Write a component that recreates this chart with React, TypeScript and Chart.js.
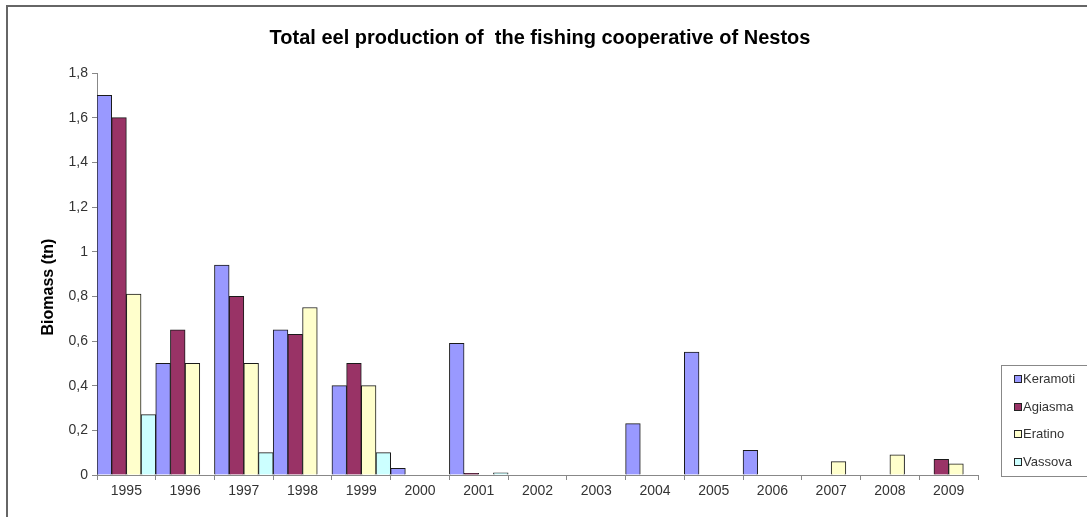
import React, { useEffect, useRef } from "react";
import { Chart, registerables } from "chart.js";

Chart.register(...registerables);

const years = ["1995","1996","1997","1998","1999","2000","2001","2002","2003","2004","2005","2006","2007","2008","2009"];
const keramoti = [1.7, 0.5, 0.94, 0.65, 0.4, 0.03, 0.59, 0, 0, 0.23, 0.55, 0.11, 0, 0, 0];
const agiasma = [1.6, 0.65, 0.8, 0.63, 0.5, 0, 0.008, 0, 0, 0, 0, 0, 0, 0, 0.07];
const eratino = [0.81, 0.5, 0.5, 0.75, 0.4, 0, 0, 0, 0, 0, 0, 0, 0.06, 0.09, 0.05];
const vassova = [0.27, 0, 0.1, 0, 0.1, 0, 0.01, 0, 0, 0, 0, 0, 0, 0, 0];
const seriesNames = ["Keramoti", "Agiasma", "Eratino", "Vassova"];
const seriesColors = ["#9999FF", "#993366", "#FFFFCC", "#CCFFFF"];
const titleText = "Total eel production of  the fishing cooperative of Nestos";
const yTitle = "Biomass (tn)";

const FONT = "'Liberation Sans', Arial, sans-serif";

const decorPlugin = {
  id: "decor",
  afterDraw(chart: any) {
    const ctx = chart.ctx;
    ctx.save();
    // frame
    ctx.strokeStyle = "#666";
    ctx.lineWidth = 2;
    ctx.beginPath();
    ctx.moveTo(1087, 6);
    ctx.lineTo(7, 6);
    ctx.lineTo(7, 517);
    ctx.stroke();
    // title
    ctx.fillStyle = "#000";
    ctx.font = `bold 20px ${FONT}`;
    ctx.textAlign = "center";
    ctx.textBaseline = "middle";
    ctx.fillText(titleText, 540, 38);
    // y title
    ctx.save();
    ctx.translate(49, 287);
    ctx.rotate(-Math.PI / 2);
    ctx.font = `bold 16px ${FONT}`;
    ctx.fillText(yTitle, 0, 0);
    ctx.restore();
    // legend
    ctx.strokeStyle = "#888";
    ctx.lineWidth = 1;
    ctx.strokeRect(1001.5, 365.5, 100, 111);
    ctx.font = `13px ${FONT}`;
    ctx.textAlign = "left";
    ctx.textBaseline = "middle";
    const ys = [379, 407, 434, 462];
    chart.data.datasets.forEach((ds: any, i: number) => {
      const y = ys[i];
      ctx.fillStyle = ds.backgroundColor;
      ctx.fillRect(1014.5, y - 3.5, 7, 7);
      ctx.strokeStyle = "#222";
      ctx.strokeRect(1014.5, y - 3.5, 7, 7);
      ctx.fillStyle = "#333";
      ctx.fillText(ds.label, 1023, y + 0.5);
    });
    ctx.restore();
  },
};

export default function App() {
  const ref = useRef<HTMLCanvasElement>(null);
  useEffect(() => {
    if (!ref.current) return;
    const data = [keramoti, agiasma, eratino, vassova];
    const chart = new Chart(ref.current, {
      type: "bar",
      data: {
        labels: years,
        datasets: seriesNames.map((n, i) => ({
          label: n,
          data: data[i],
          backgroundColor: seriesColors[i],
          borderColor: "#1a1a1a",
          borderWidth: 1,
          categoryPercentage: 1,
          barPercentage: 1,
        })),
      },
      options: {
        animation: false,
        responsive: false,
        devicePixelRatio: 1,
        layout: { padding: { left: 0, top: 73, right: 109, bottom: 0 } },
        plugins: {
          legend: { display: false },
          title: { display: false },
          tooltip: { enabled: false },
        },
        scales: {
          x: {
            grid: { drawOnChartArea: false, drawTicks: true, tickLength: 5, color: "#888", offset: true },
            border: { display: true, color: "#888", width: 1 },
            ticks: { color: "#333", font: { family: FONT, size: 14 }, padding: 3, maxRotation: 0, autoSkip: false },
            afterFit: (s: any) => { s.height = 42; },
          },
          y: {
            min: 0,
            max: 1.8,
            grid: { drawOnChartArea: false, drawTicks: true, tickLength: 5, color: "#888" },
            border: { display: true, color: "#888", width: 1 },
            ticks: {
              stepSize: 0.2,
              color: "#333",
              font: { family: FONT, size: 14 },
              padding: 4,
              callback: (v: any) => String(Number(Number(v).toFixed(1))).replace(".", ","),
            },
            afterFit: (s: any) => { s.width = 97; },
          },
        },
      },
      plugins: [decorPlugin],
    });
    return () => chart.destroy();
  }, []);
  return (
    <div style={{ position: "fixed", left: 0, top: 0, width: 1087, height: 517, background: "#fff" }}>
      <canvas ref={ref} width={1087} height={517} style={{ width: 1087, height: 517, display: "block" }} />
    </div>
  );
}
